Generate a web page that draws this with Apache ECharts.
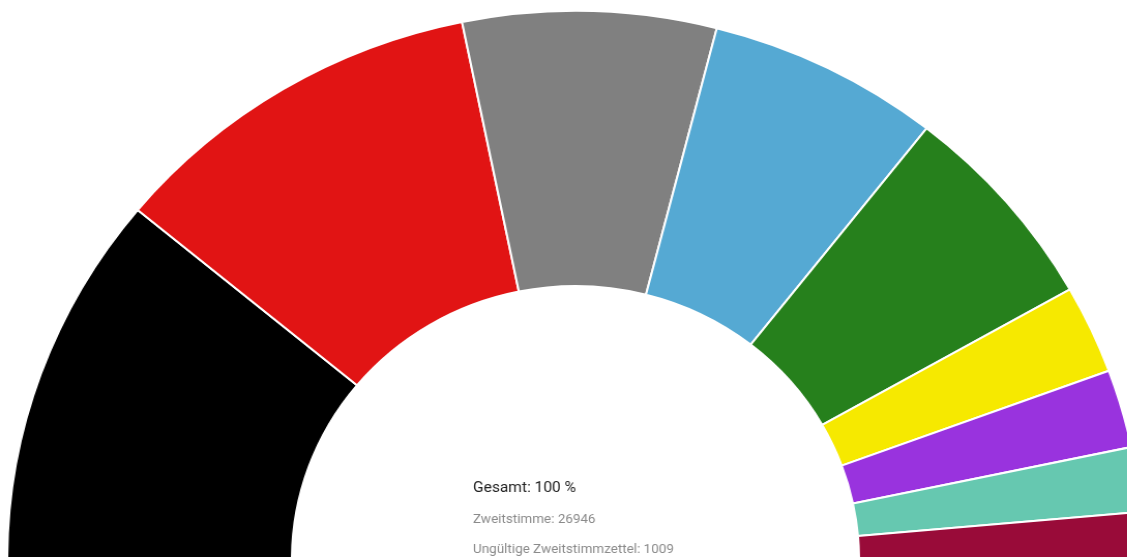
<!DOCTYPE html>
<html>
<head>
<meta charset="utf-8">
<script src="https://cdn.jsdelivr.net/npm/echarts@6/dist/echarts.min.js"></script>
<style>
  html, body { margin: 0; padding: 0; background: #fff; overflow: hidden; }
  /* the reference is a bit wider than tall, so the chart gets stretched sideways */
  #main { width: 1089px; height: 557px; transform: scaleX(1.035); transform-origin: 0 0; }
</style>
</head>
<body>
<div id="main"></div>
<script>
// Zweitstimmen-Anteile in Prozent (aus dem Bild geschätzt)
var parteien = ['CDU', 'SPD', 'Sonstige', 'AfD', 'GRÜNE', 'FDP', 'Die PARTEI', 'Freie Wähler', 'DIE LINKE'];
var anteile = [22.0, 21.6, 14.4, 13.2, 12.4, 5.2, 4.6, 3.8, 2.8];
var farben = ['#000000', '#e11414', '#808080', '#55a9d3', '#26801c', '#f6e900', '#9933de', '#66c8b0', '#990b39'];

var infoTexte = ['Gesamt: 100 %', 'Zweitstimme: 26946', 'Ungültige Zweitstimmzettel: 1009'];

var myChart = echarts.init(document.getElementById('main'));

var daten = parteien.map(function (name, i) {
    return { name: name, value: anteile[i], itemStyle: { color: farben[i] } };
});

myChart.setOption({
    animation: false,
    title: [
        {
            text: infoTexte[0],
            left: 457, top: 481, padding: 0,
            textStyle: { fontFamily: 'Roboto', fontSize: 15, fontWeight: 'normal', color: '#222' }
        },
        {
            text: infoTexte[1],
            left: 457, top: 513, padding: 0,
            textStyle: { fontFamily: 'Roboto', fontSize: 13, fontWeight: 'normal', color: '#8a8a8a' }
        },
        {
            text: infoTexte[2],
            left: 457, top: 543, padding: 0,
            textStyle: { fontFamily: 'Roboto', fontSize: 13, fontWeight: 'normal', color: '#8a8a8a' }
        }
    ],
    series: [
        {
            name: 'Zweitstimme',
            type: 'pie',
            center: [556, 560],
            radius: [274, 549],
            startAngle: 180,
            endAngle: 0,
            clockwise: true,
            label: { show: false },
            labelLine: { show: false },
            itemStyle: { borderColor: '#fff', borderWidth: 2 },
            data: daten
        }
    ]
});
</script>
</body>
</html>
